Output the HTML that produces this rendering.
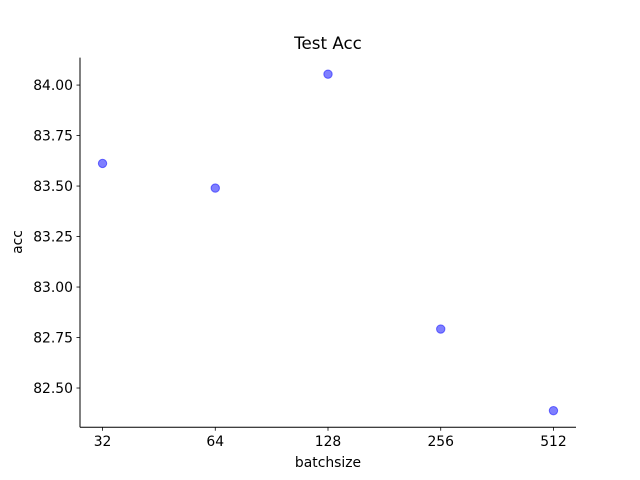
<!DOCTYPE html>
<html><head><meta charset="utf-8"><style>
html,body{margin:0;padding:0;background:#fff;}
svg{display:block;font-family:"DejaVu Sans","Liberation Sans",sans-serif;}
</style></head><body>
<svg id="chart" width="640" height="480" viewBox="0 0 640 480">
<rect width="640" height="480" fill="#fff"/>
<text x="328" y="49" font-size="16.7" text-anchor="middle" fill="#000">Test Acc</text>
<g id="axes"></g>
<g id="points"></g>
<text x="328" y="467" font-size="13.9" text-anchor="middle">batchsize</text>
<text x="0" y="0" font-size="13.9" text-anchor="middle" transform="translate(22,242) rotate(-90)">acc</text>
</svg>
<script>
const categories = ["32","64","128","256","512"];
const accValues = [83.612, 83.49, 84.054, 82.792, 82.388];
const yTicks = [82.5, 82.75, 83.0, 83.25, 83.5, 83.75, 84.0];
const yTickLabels = ["82.50","82.75","83.00","83.25","83.50","83.75","84.00"];

const L=80,R=576,T=57.6,B=427.2;
const yMin=82.306,yMax=84.136;
function xPos(i){return L+(i+0.2)/4.4*(R-L);}
function yPos(v){return B-(v-yMin)/(yMax-yMin)*(B-T);}
const NS="http://www.w3.org/2000/svg";
const axes=document.getElementById('axes');
const pts=document.getElementById('points');
function mk(tag,attrs,parent){const e=document.createElementNS(NS,tag);for(const k in attrs)e.setAttribute(k,attrs[k]);parent.appendChild(e);return e;}

const ls=mk('line',{x1:L,y1:T,x2:L,y2:B,stroke:'#000','stroke-width':1},axes);


const lb=mk('line',{x1:L,y1:B,x2:R,y2:B,stroke:'#000','stroke-width':1},axes);



yTicks.forEach((v,i)=>{
  const y=yPos(v);
  const t=mk('line',{x1:L-3.5,y1:y,x2:L,y2:y,stroke:'#000','stroke-width':0.8},axes);
  
  
  const tx=mk('text',{x:L-7,y:y+5,'font-size':13.9,'text-anchor':'end'},axes);
  tx.textContent=yTickLabels[i];
  
  
});
categories.forEach((c,i)=>{
  const x=xPos(i);
  const t=mk('line',{x1:x,y1:B,x2:x,y2:B+3.5,stroke:'#000','stroke-width':0.8},axes);
  
  
  const tx=mk('text',{x:x,y:B+19,'font-size':13.9,'text-anchor':'middle'},axes);
  tx.textContent=c;
  
  
});
accValues.forEach((v,i)=>{
  const c=mk('circle',{cx:xPos(i),cy:yPos(v),r:4.2,fill:'rgba(0,0,255,0.5)',stroke:'rgba(0,0,255,0.5)','stroke-width':1},pts);
  
  
});
</script>
</body></html>
